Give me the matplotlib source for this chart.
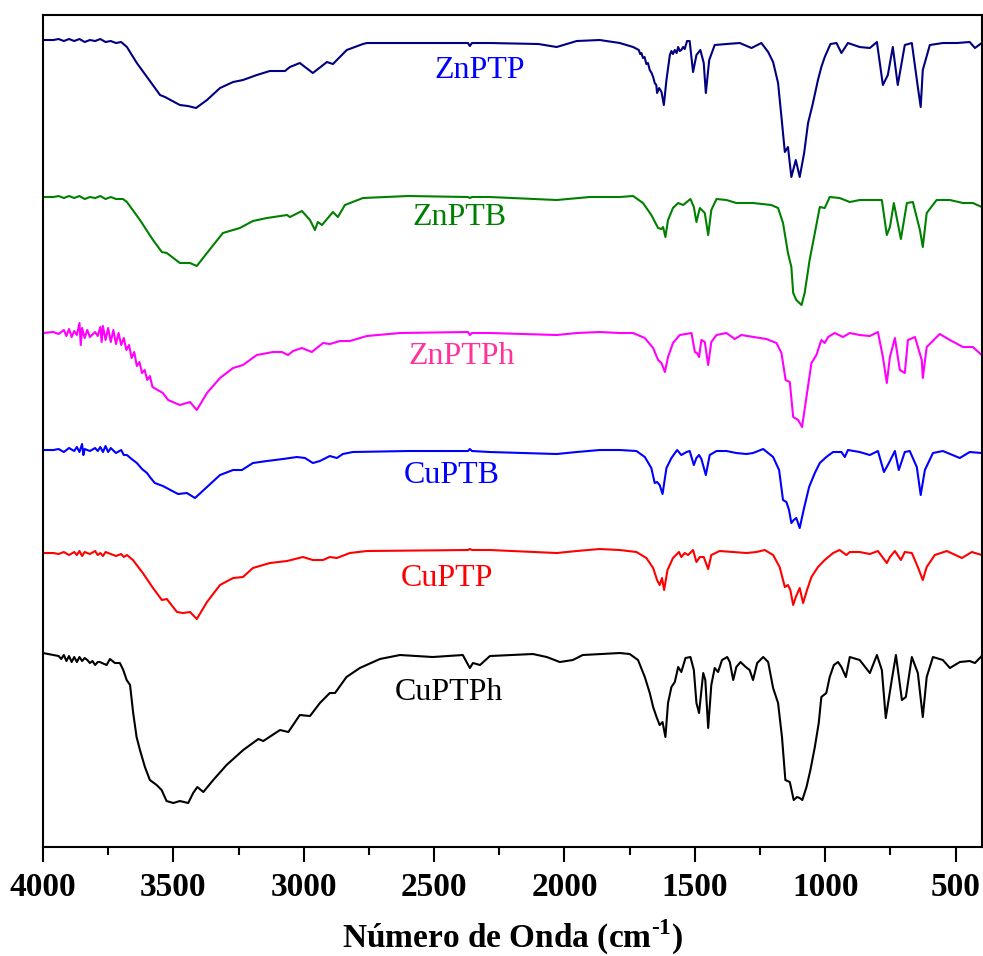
import matplotlib
matplotlib.use("Agg")
import matplotlib.pyplot as plt
from matplotlib.ticker import MultipleLocator

plt.rcParams["font.family"] = ["Liberation Serif", "DejaVu Serif"]
plt.rcParams["mathtext.fontset"] = "custom"
plt.rcParams["mathtext.rm"] = "Liberation Serif:bold"
plt.rcParams["mathtext.bf"] = "Liberation Serif:bold"

# FTIR spectra, stacked (transmittance, arbitrary units)
znptp_wn = [4000, 3960, 3940, 3920, 3900, 3880, 3860, 3840, 3820, 3800, 3780, 3760, 3740, 3720, 3700,
            3678, 3640, 3601, 3551, 3532, 3475, 3444, 3413, 3371, 3321, 3271, 3233, 3180, 3130, 3072,
            3053, 3015, 2965, 2911, 2888, 2835, 2773, 2758, 2370, 2363, 2355, 2286, 2100, 2030, 1953,
            1865, 1788, 1737, 1715, 1710, 1705, 1699, 1693, 1686, 1680, 1673, 1666, 1660, 1654, 1648,
            1645, 1637, 1628, 1619, 1609, 1596, 1590, 1584, 1577, 1570, 1564, 1558, 1552, 1545, 1539,
            1530, 1520, 1507, 1494, 1479, 1466, 1458, 1445, 1424, 1379, 1328, 1283, 1245, 1219, 1200,
            1181, 1168, 1155, 1143, 1130, 1113, 1098, 1081, 1066, 1049, 1028, 1015, 1002, 980, 957,
            938, 913, 868, 829, 802, 779, 760, 741, 722, 695, 668, 645, 634, 626, 599, 549, 495, 446,
            426, 400]
znptp_t = [807, 807, 808, 806, 808, 806, 808, 805, 807, 806, 808, 805, 806, 804, 805,
           800, 784, 770, 752, 750, 742, 741, 739, 747, 759, 765, 767, 772, 776, 776,
           780, 784, 774, 785, 783, 797, 803, 804, 804, 801, 804, 804, 803, 800, 806,
           807, 804, 800, 797, 793, 794, 789, 790, 783, 784, 777, 774, 770, 764, 762,
           754, 759, 755, 742, 767, 792, 796, 793, 797, 794, 800, 796, 797, 800, 798,
           806, 806, 775, 792, 797, 784, 754, 787, 802, 803, 804, 799, 804, 795, 785,
           764, 730, 695, 700, 670, 687, 670, 694, 724, 742, 767, 780, 790, 803, 804,
           794, 804, 800, 799, 805, 762, 772, 800, 762, 802, 804, 760, 740, 777, 802, 804, 804, 805,
           799, 804]

znptb_wn = [4000, 3960, 3940, 3920, 3900, 3880, 3860, 3840, 3820, 3800, 3780, 3760, 3740, 3720, 3693,
            3678, 3628, 3578, 3544, 3525, 3475, 3436, 3410, 3371, 3310, 3245, 3195, 3141, 3064, 3053,
            3007, 2976, 2957, 2946, 2930, 2888, 2869, 2842, 2773, 2600, 2370, 2363, 2355, 2286, 2030,
            1903, 1788, 1737, 1699, 1667, 1641, 1628, 1622, 1613, 1603, 1584, 1564, 1545, 1517, 1504,
            1494, 1481, 1462, 1449, 1437, 1417, 1379, 1341, 1277, 1207, 1181, 1162, 1143, 1130, 1123,
            1111, 1091, 1079, 1060, 1040, 1021, 1002, 983, 945, 906, 868, 817, 783, 764, 752, 737,
            710, 687, 664, 637, 626, 611, 573, 522, 472, 434, 400]
znptb_t = [650, 650, 651, 649, 651, 649, 651, 648, 650, 649, 651, 648, 650, 648, 648,
           645, 627, 607, 595, 594, 584, 584, 581, 594, 614, 619, 626, 629, 632, 630,
           636, 627, 617, 625, 622, 635, 630, 642, 649, 651, 650, 649, 650, 650, 647,
           650, 650, 651, 644, 632, 619, 618, 620, 610, 627, 639, 644, 642, 648, 640,
           625, 639, 634, 612, 637, 648, 647, 644, 644, 642, 639, 624, 594, 580, 554,
           547, 542, 554, 587, 614, 640, 639, 650, 649, 645, 647, 647, 647, 612, 620, 644,
           608, 644, 645, 617, 600, 634, 647, 647, 644, 644, 640]

znptph_wn = [4000, 3960, 3940, 3920, 3910, 3900, 3890, 3880, 3870, 3860, 3855, 3850, 3840, 3830, 3820,
             3800, 3790, 3780, 3775, 3770, 3760, 3750, 3740, 3730, 3720, 3710, 3700, 3690, 3680, 3670,
             3660, 3650, 3640, 3630, 3620, 3610, 3600, 3590, 3580, 3560, 3540, 3520, 3475, 3436, 3410,
             3371, 3321, 3271, 3233, 3180, 3118, 3084, 3060, 3041, 3007, 2969, 2926, 2900, 2861, 2823,
             2758, 2631, 2370, 2363, 2355, 2286, 2030, 1953, 1865, 1788, 1737, 1692, 1660, 1641, 1628,
             1615, 1603, 1584, 1558, 1513, 1500, 1492, 1484, 1475, 1462, 1449, 1437, 1417, 1379, 1347,
             1322, 1251, 1226, 1187, 1168, 1152, 1136, 1123, 1104, 1089, 1072, 1053, 1034, 1015, 1002,
             989, 964, 932, 906, 868, 829, 798, 779, 764, 752, 733, 714, 695, 683, 656, 630, 626, 611,
             561, 522, 472, 434, 400]
znptph_t = [514, 515, 513, 517, 511, 518, 510, 516, 512, 524, 502, 519, 509, 517, 510,
            515, 511, 520, 505, 521, 507, 519, 505, 517, 503, 514, 502, 509, 497, 502,
            489, 495, 481, 485, 474, 477, 467, 471, 460, 457, 454, 447, 442, 445, 437,
            454, 469, 479, 482, 492, 495, 495, 492, 496, 499, 495, 504, 503, 506, 506,
            511, 514, 515, 512, 514, 514, 512, 514, 515, 514, 514, 509, 499, 487, 484,
            475, 490, 504, 512, 514, 495, 494, 490, 507, 505, 482, 505, 512, 514, 508,
            512, 509, 508, 504, 494, 467, 465, 430, 427, 420, 450, 484, 492, 507, 504,
            510, 514, 510, 514, 512, 511, 515, 490, 464, 490, 509, 477, 474, 507, 510, 487, 469, 500,
            513, 507, 500, 500, 492]

cuptb_wn = [4000, 3960, 3940, 3920, 3900, 3880, 3870, 3860, 3850, 3845, 3840, 3820, 3800, 3790, 3780,
            3770, 3760, 3750, 3740, 3720, 3700, 3690, 3678, 3660, 3640, 3620, 3601, 3590, 3571, 3540,
            3482, 3448, 3417, 3371, 3321, 3271, 3237, 3195, 3141, 3080, 3026, 2995, 2965, 2938, 2900,
            2873, 2850, 2812, 2600, 2370, 2363, 2355, 2286, 2030, 1953, 1865, 1788, 1724, 1692, 1667,
            1654, 1645, 1635, 1624, 1609, 1590, 1568, 1552, 1532, 1520, 1504, 1494, 1484, 1475, 1458,
            1443, 1417, 1379, 1341, 1302, 1277, 1238, 1200, 1177, 1162, 1149, 1139, 1130, 1121, 1111,
            1098, 1083, 1062, 1040, 1021, 996, 970, 938, 925, 913, 868, 829, 798, 775, 760, 733, 718,
            695, 676, 649, 634, 618, 587, 549, 484, 446, 400]
cuptb_t = [397, 397, 398, 395, 399, 396, 400, 395, 403, 392, 398, 396, 399, 396, 400,
           395, 401, 395, 399, 394, 397, 392, 392, 388, 384, 378, 374, 370, 364, 361,
           353, 354, 349, 360, 372, 377, 377, 384, 386, 388, 390, 389, 384, 386, 391,
           389, 393, 395, 396, 396, 398, 396, 395, 393, 395, 397, 397, 396, 390, 379,
           364, 365, 362, 353, 379, 389, 397, 392, 395, 396, 382, 389, 392, 388, 372,
           392, 396, 396, 394, 393, 394, 398, 390, 377, 347, 345, 337, 324, 327, 329,
           319, 337, 360, 374, 384, 390, 395, 395, 390, 397, 395, 392, 396, 375, 382, 396, 377,
           395, 396, 380, 352, 377, 394, 396, 389, 395, 394]

cuptp_wn = [4000, 3960, 3940, 3920, 3900, 3880, 3870, 3860, 3850, 3840, 3820, 3800, 3790, 3780, 3770,
            3760, 3740, 3720, 3700, 3690, 3678, 3655, 3617, 3578, 3544, 3525, 3486, 3463, 3436, 3410,
            3371, 3321, 3271, 3233, 3195, 3130, 3064, 3003, 2965, 2926, 2900, 2873, 2823, 2758, 2370,
            2363, 2355, 2286, 2030, 1953, 1865, 1788, 1724, 1686, 1660, 1645, 1635, 1626, 1618, 1605,
            1584, 1561, 1552, 1539, 1526, 1507, 1494, 1481, 1466, 1449, 1437, 1405, 1353, 1302, 1264,
            1232, 1200, 1175, 1155, 1143, 1134, 1123, 1113, 1098, 1085, 1070, 1053, 1028, 1002, 970,
            945, 919, 906, 868, 829, 798, 764, 752, 733, 710, 695, 668, 645, 626, 611, 580, 534, 476,
            438, 400]
cuptp_t = [294, 294, 293, 295, 292, 295, 292, 296, 291, 295, 293, 296, 292, 294, 291,
           295, 293, 291, 293, 290, 292, 287, 274, 259, 247, 248, 235, 234, 235, 228,
           245, 262, 269, 270, 279, 284, 286, 290, 287, 287, 290, 289, 294, 296, 297,
           298, 297, 297, 294, 296, 298, 297, 295, 289, 279, 267, 262, 269, 257, 277,
           289, 295, 290, 294, 292, 297, 285, 290, 290, 278, 292, 296, 295, 294, 295,
           297, 292, 280, 260, 262, 257, 242, 250, 259, 244, 257, 270, 280, 287, 294,
           297, 292, 295, 295, 293, 296, 284, 290, 296, 287, 295, 294, 280, 267, 280, 292, 296, 289,
           295, 292]

cuptph_wn = [4000, 3980, 3960, 3940, 3930, 3920, 3910, 3900, 3890, 3880, 3870, 3860, 3850, 3840, 3830,
             3820, 3810, 3800, 3790, 3782, 3756, 3743, 3724, 3705, 3692, 3679, 3666, 3654, 3641, 3628,
             3609, 3590, 3564, 3545, 3526, 3500, 3475, 3443, 3424, 3408, 3385, 3347, 3296, 3232, 3174,
             3155, 3091, 3059, 3015, 2976, 2938, 2900, 2880, 2836, 2785, 2708, 2631, 2505, 2390, 2363,
             2351, 2324, 2286, 2121, 2068, 2018, 1968, 1930, 1788, 1750, 1718, 1692, 1673, 1660, 1647,
             1635, 1624, 1613, 1603, 1590, 1577, 1564, 1552, 1536, 1517, 1504, 1494, 1484, 1468, 1460,
             1449, 1437, 1424, 1411, 1396, 1376, 1366, 1353, 1341, 1325, 1305, 1290, 1277, 1261, 1238,
             1219, 1200, 1181, 1166, 1153, 1136, 1121, 1108, 1098, 1088, 1072, 1057, 1040, 1025, 1015,
             996, 983, 967, 951, 938, 921, 906, 868, 829, 802, 783, 768, 745, 729, 706, 691, 668, 645,
             626, 611, 587, 549, 522, 484, 446, 426, 400]
cuptph_t = [194, 193, 192, 191, 188, 192, 186, 191, 185, 190, 185, 190, 186, 189, 187,
            184, 186, 182, 185, 185, 182, 188, 184, 184, 177, 167, 162, 134, 110, 97,
            80, 67, 62, 57, 46, 44, 46, 44, 54, 60, 55, 67, 82, 97, 108,
            106, 117, 115, 132, 131, 144, 154, 154, 170, 179, 188, 192, 190, 192, 179,
            184, 182, 191, 193, 190, 185, 187, 192, 194, 193, 187, 170, 154, 140, 130,
            122, 125, 110, 144, 160, 165, 180, 175, 189, 190, 177, 144, 134, 174, 167,
            119, 162, 179, 175, 187, 190, 185, 167, 180, 185, 180, 177, 167, 184, 190,
            185, 159, 144, 110, 67, 65, 47, 50, 49, 47, 60, 77, 100, 124, 150,
            154, 170, 182, 185, 180, 170, 190, 187, 174, 192, 177, 129, 167, 192, 147, 150, 190, 174,
            130, 170, 190, 187, 179, 185, 186, 184, 191]

names = ["ZnPTP", "ZnPTB", "ZnPTPh", "CuPTB", "CuPTP", "CuPTPh"]
series = [(znptp_wn, znptp_t), (znptb_wn, znptb_t), (znptph_wn, znptph_t),
          (cuptb_wn, cuptb_t), (cuptp_wn, cuptp_t), (cuptph_wn, cuptph_t)]
line_colors = ["#000080", "#008000", "#FF00FF", "#0000FF", "#FF0000", "#000000"]
text_colors = ["#0000FF", "#008000", "#FF3399", "#0000FF", "#FF0000", "#000000"]
label_pos = [(2324, 777), (2401, 630), (2393, 491), (2432, 372), (2451, 269), (2443, 155)]

fig = plt.figure(figsize=(9.83, 9.56), dpi=100)
ax = fig.add_axes([0.0437, 0.114, 0.955, 0.8703])

for (wn, t), lc, tc, name, (lx, ly) in zip(series, line_colors, text_colors, names, label_pos):
    ax.plot(wn, t, color=lc, lw=1.5)
    ax.text(lx, ly, name, color=tc, fontsize=23, ha="center", va="center")

ax.set_xlim(4000, 400)
ax.set_ylim(0, 832)
ax.set_yticks([])
ax.xaxis.set_major_locator(MultipleLocator(500))
ax.xaxis.set_minor_locator(MultipleLocator(250))
ax.tick_params(axis="x", which="major", direction="out", length=11, width=1.5,
               labelsize=24, pad=7)
ax.tick_params(axis="x", which="minor", direction="out", length=6, width=1.5)
for lab in ax.get_xticklabels():
    lab.set_fontweight("bold")
for sp in ax.spines.values():
    sp.set_linewidth(1.5)

ax.set_xlabel(r"Número de Onda (cm$^{\text{-1}}$)", fontsize=24, fontweight="bold", labelpad=11)

fig.savefig("out.png", dpi=100)
